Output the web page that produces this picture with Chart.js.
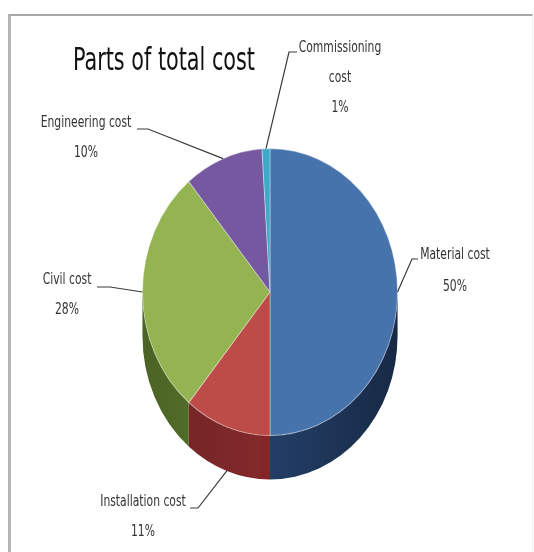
<!DOCTYPE html>
<html>
<head>
<meta charset="utf-8">
<title>Parts of total cost</title>
<script src="https://cdn.jsdelivr.net/npm/chart.js@4.4.1/dist/chart.umd.min.js"></script>
<style>
  html, body { margin: 0; padding: 0; background: #fff; }
  #frame {
    position: absolute; left: 8px; top: 14px; width: 525px; height: 538px;
    box-sizing: border-box;
    border-top: 2px solid #a8a8a8; border-left: 3px solid #b4b4b4; border-right: 1px solid #f2f2f2;
  }
  #costChart { position: absolute; left: 0; top: 0; }
</style>
</head>
<body>
<div id="frame"></div>
<canvas id="costChart" width="534" height="552"></canvas>
<script>
// slices, clockwise from 12 o'clock
const categories = ['Material cost', 'Installation cost', 'Civil cost', 'Engineering cost', 'Commissioning cost'];
const shares = [50, 11, 28, 10, 1];
// how each category name is broken over lines in its label
const labelLines = [['Material cost'], ['Installation cost'], ['Civil cost'], ['Engineering cost'], ['Commissioning', 'cost']];

const topColors = ['#4673ac', '#bd4b48', '#93b451', '#7558a0', '#3fa9c8'];
const sideColors = ['#24406a', '#82292a', '#58752b', '#47325f', '#1f6478'];

const TILT = 1.125;   // vertical stretch of the pie face
const DEPTH = 44;     // height of the pie wall, px
const FONT = '"Liberation Sans Narrow", "DejaVu Sans Condensed", "Liberation Sans", sans-serif';

// label placement: text centre, line spacing, leader elbow and tick end
const labelLayout = [
  { x: 455, y: 255, gap: 32, tick: [418, 259], elbow: [412, 259], wall: false },
  { x: 143, y: 502, gap: 30, tick: [190, 508], elbow: [198, 508], wall: true },
  { x: 67,  y: 280, gap: 30, tick: [97, 287],  elbow: [110, 287], wall: false },
  { x: 86,  y: 123, gap: 30, tick: [137, 129], elbow: [148, 129], wall: false },
  { x: 340, y: 48,  gap: 30, tick: [297, 52],  elbow: [289, 52],  wall: false }
];

function pieCentre(chart) {
  const a = chart.getDatasetMeta(0).data[0];
  return { cx: a.x, cy: a.y, r: a.outerRadius };
}

// text drawn a little condensed, centred on x
function squeezedText(ctx, text, x, y, sx) {
  ctx.save();
  ctx.translate(x, y);
  ctx.scale(sx, 1);
  ctx.fillText(text, 0, 0);
  ctx.restore();
}

// squashes the pie face and paints the wall beneath the front half
const pie3d = {
  id: 'pie3d',
  beforeDatasetsDraw(chart) {
    const ctx = chart.ctx;
    const { cx, cy, r } = pieCentre(chart);
    const dz = DEPTH / TILT;
    ctx.save();
    ctx.translate(cx, cy);
    ctx.scale(1, TILT);
    ctx.translate(-cx, -cy);

    chart.getDatasetMeta(0).data.forEach((arc, i) => {
      const p = arc.getProps(['startAngle', 'endAngle'], true);
      const s = Math.max(p.startAngle, 0);
      const e = Math.min(p.endAngle, Math.PI);
      if (e <= s) return;
      ctx.beginPath();
      ctx.arc(cx, cy, r, s, e);
      ctx.arc(cx, cy + dz, r, e, s, true);
      ctx.closePath();
      ctx.fillStyle = sideColors[i];
      ctx.fill();
    });

    // darken the wall towards the right
    const g = ctx.createLinearGradient(cx - r, 0, cx + r, 0);
    g.addColorStop(0, 'rgba(0,0,0,0.15)');
    g.addColorStop(0.45, 'rgba(0,0,0,0)');
    g.addColorStop(1, 'rgba(0,0,0,0.35)');
    ctx.beginPath();
    ctx.arc(cx, cy, r, 0, Math.PI);
    ctx.arc(cx, cy + dz, r, Math.PI, 0, true);
    ctx.closePath();
    ctx.fillStyle = g;
    ctx.fill();
  },
  afterDatasetsDraw(chart) {
    chart.ctx.restore();
  }
};

// title, data labels and leader lines
const annotate = {
  id: 'annotate',
  afterDraw(chart) {
    const ctx = chart.ctx;
    const { cx, cy, r } = pieCentre(chart);
    ctx.save();

    ctx.fillStyle = '#111';
    ctx.textAlign = 'center';
    ctx.textBaseline = 'alphabetic';
    ctx.font = '32px ' + FONT;
    const title = 'Parts of total cost';
    squeezedText(ctx, title, 164, 70, 182 / ctx.measureText(title).width);

    ctx.strokeStyle = '#3a3a3a';
    ctx.lineWidth = 1.2;
    chart.getDatasetMeta(0).data.forEach((arc, i) => {
      const p = arc.getProps(['startAngle', 'endAngle'], true);
      const m = (p.startAngle + p.endAngle) / 2;
      const L = labelLayout[i];
      let ex = cx + r * Math.cos(m);
      let ey = cy + r * Math.sin(m) * TILT;
      if (L.wall) ey += DEPTH;
      ctx.beginPath();
      ctx.moveTo(L.tick[0], L.tick[1]);
      ctx.lineTo(L.elbow[0], L.elbow[1]);
      ctx.lineTo(ex, ey);
      ctx.stroke();

      ctx.fillStyle = '#333';
      ctx.font = '15px ' + FONT;
      ctx.textBaseline = 'middle';
      const lines = labelLines[i].concat([shares[i] + '%']);
      lines.forEach((t, k) => squeezedText(ctx, t, L.x, L.y + k * L.gap, 0.8));
    });
    ctx.restore();
  }
};

new Chart(document.getElementById('costChart'), {
  type: 'pie',
  data: {
    labels: categories,
    datasets: [{
      data: shares,
      backgroundColor: topColors,
      borderColor: 'rgba(255,255,255,0.35)',
      borderWidth: 1,
      clip: false
    }]
  },
  options: {
    responsive: false,
    animation: false,
    rotation: 0,
    layout: { padding: { left: 142, right: 136, top: 164, bottom: 132 } },
    plugins: {
      legend: { display: false },
      tooltip: { enabled: false },
      title: { display: false }
    },
    events: []
  },
  plugins: [pie3d, annotate]
});
</script>
</body>
</html>
